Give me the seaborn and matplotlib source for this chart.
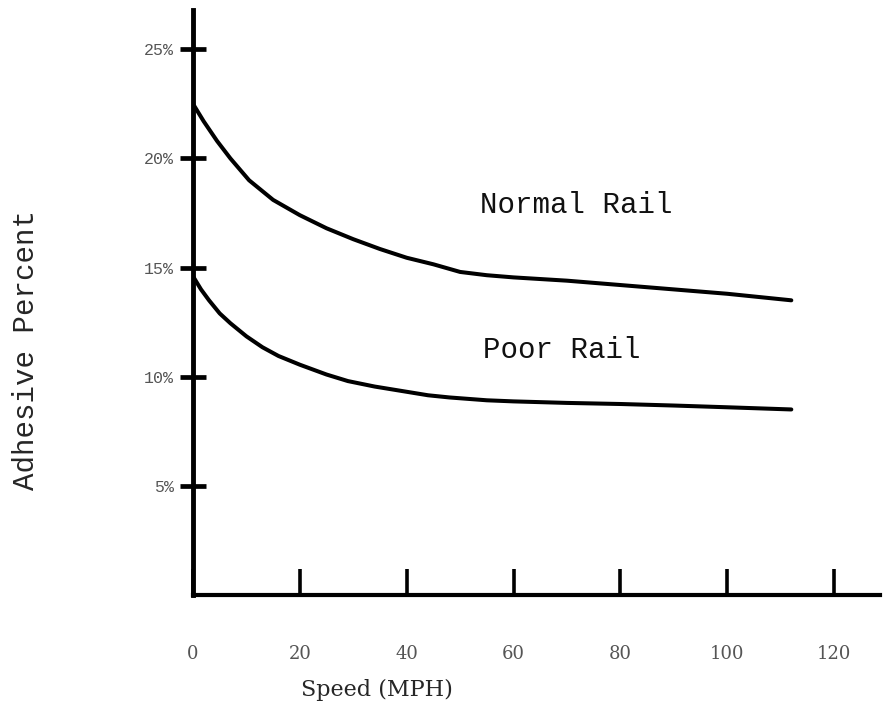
import matplotlib
matplotlib.use("Agg")
import matplotlib.pyplot as plt
import seaborn as sns
import pandas as pd

# Data
speed_normal = [0, 2, 4.5, 7, 10.5, 15, 20, 25, 30, 35, 40, 45, 50, 55, 60, 70, 80, 90, 100, 112]
adhesion_normal = [22.5, 21.7, 20.8, 20.0, 19.0, 18.1, 17.4, 16.8, 16.3, 15.85, 15.45, 15.15, 14.8,
                   14.65, 14.55, 14.4, 14.2, 14.0, 13.8, 13.5]
speed_poor = [0, 1.5, 3, 5, 7, 10, 13, 16, 20, 25, 29, 34, 39, 44, 48, 55, 60, 70, 80, 90, 100, 112]
adhesion_poor = [14.6, 14.0, 13.5, 12.9, 12.45, 11.85, 11.35, 10.95, 10.55, 10.1, 9.8, 9.55, 9.35,
                 9.15, 9.05, 8.92, 8.87, 8.8, 8.75, 8.68, 8.6, 8.5]
x_ticks = [0, 20, 40, 60, 80, 100, 120]
y_ticks = [5, 10, 15, 20, 25]
y_tick_labels = ["5%", "10%", "15%", "20%", "25%"]

df = pd.concat([
    pd.DataFrame({"speed": speed_normal, "adhesion": adhesion_normal, "rail": "Normal Rail"}),
    pd.DataFrame({"speed": speed_poor, "adhesion": adhesion_poor, "rail": "Poor Rail"}),
])

sns.set_theme(style="white")
plt.rcParams["font.family"] = ["Liberation Mono", "DejaVu Sans"]

fig = plt.figure(figsize=(8.83, 7.10), dpi=100)
ax = fig.add_axes([193 / 883, 115 / 710, 687 / 883, 585 / 710])

sns.lineplot(data=df, x="speed", y="adhesion", units="rail", estimator=None,
             color="black", linewidth=2.9, ax=ax, legend=False)

ax.set_xlim(0, 128.6)
ax.set_ylim(0, 26.8)

# Spines: only left and bottom, heavy ink
for side in ["top", "right"]:
    ax.spines[side].set_visible(False)
ax.spines["left"].set_linewidth(3.5)
ax.spines["bottom"].set_linewidth(3.0)
for side in ["left", "bottom"]:
    ax.spines[side].set_color("black")

ax.set_xticks(x_ticks)
ax.set_xticklabels([str(t) for t in x_ticks], family="DejaVu Serif",
                   fontsize=13, color="#555555")
ax.set_yticks(y_ticks)
ax.set_yticklabels(y_tick_labels, fontsize=12, color="#555555")
ax.tick_params(axis="x", bottom=True, direction="in", length=19, width=2.6,
               color="black", pad=36)
ax.tick_params(axis="y", left=True, direction="inout", length=19, width=3.4,
               color="black", pad=4)

ax.set_xlabel("Speed (MPH)", family="DejaVu Serif", fontsize=16)
ax.set_ylabel("Adhesive Percent", fontsize=21)
ax.xaxis.set_label_coords(0.268, -0.143)
ax.yaxis.set_label_coords(-0.222, 0.419)

ax.text(53.7, 17.5, "Normal Rail", fontsize=21, ha="left", va="baseline", color="#111111")
ax.text(54.3, 10.85, "Poor Rail", fontsize=21, ha="left", va="baseline", color="#111111")

fig.savefig("out.png", dpi=100, facecolor="white")
